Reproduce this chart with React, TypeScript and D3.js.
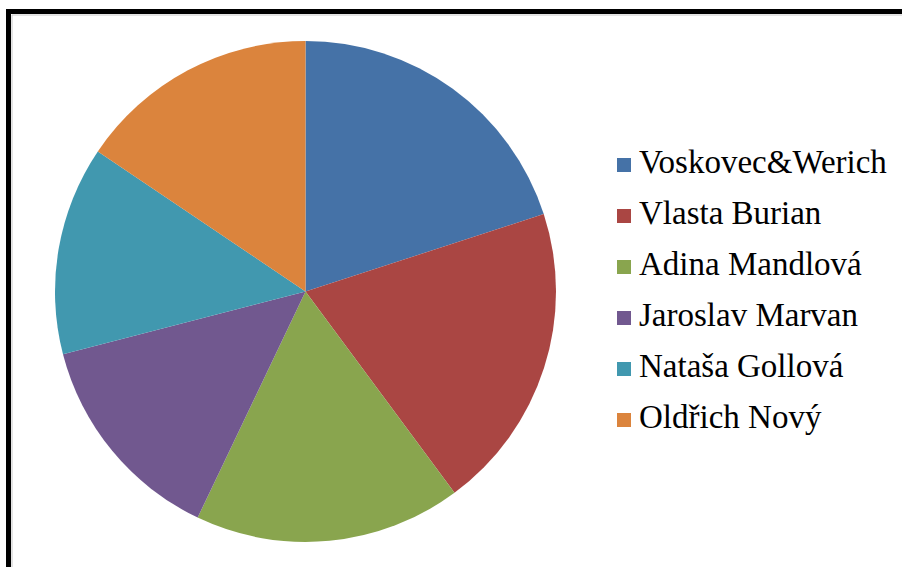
import React from "react";
import * as d3 from "d3";

const categories = ["Voskovec&Werich", "Vlasta Burian", "Adina Mandlová", "Jaroslav Marvan", "Nataša Gollová", "Oldřich Nový"];
const values = [72, 71.5, 62, 50, 48.5, 56];
const colors = ["#4572A7", "#AA4643", "#89A54E", "#71588F", "#4198AF", "#DB843D"];

export default function App() {
  const W = 902, H = 567;
  const cx = 305.5, cy = 291.5, r = 250.5;
  const pie = d3.pie<number>().sort(null).value((d) => d)(values);
  const arc = d3.arc<d3.PieArcDatum<number>>().innerRadius(0).outerRadius(r);
  return (
    <svg width={W} height={H} style={{ position: "absolute", left: 0, top: 0, background: "#fff" }}>
      <rect x={0} y={0} width={W} height={H} fill="#fff" />
      <path d={`M8.5,${H + 10} V11.5 H${W + 10}`} fill="none" stroke="#000" strokeWidth={5} />
      <path d={`M12,${H + 10} V15 H${W + 10}`} fill="none" stroke="#c8c8c8" strokeWidth={1} />
      <g transform={`translate(${cx},${cy})`}>
        {pie.map((p, i) => (
          <path key={i} d={arc(p) || ""} fill={colors[i]} />
        ))}
      </g>
      <g>
        {categories.map((c, i) => {
          const by = 173 + i * 51;
          return (
            <g key={c}>
              <rect x={617} y={by - 15} width={14} height={14} fill={colors[i]} />
              <text x={639} y={by} style={{ fontFamily: '"Liberation Serif"', fontSize: "33px" }} fill="#000">
                {c}
              </text>
            </g>
          );
        })}
      </g>
    </svg>
  );
}
